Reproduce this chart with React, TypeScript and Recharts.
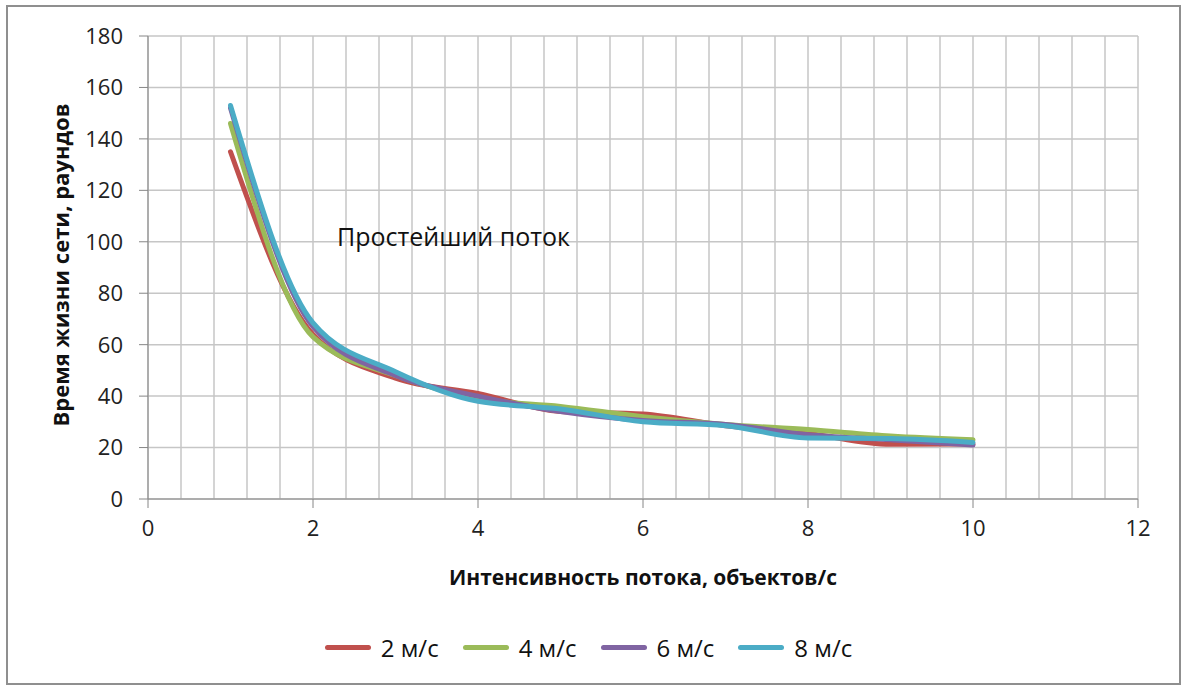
import React from 'react';
import { LineChart, Line, XAxis, YAxis, CartesianGrid } from 'recharts';

// intensity of the flow, objects/s
const intensity = [1, 2, 3, 4, 5, 6, 7, 8, 9, 10];

// network lifetime, rounds, per node speed
const speed2 = [135, 64, 47, 41, 34, 33, 28.5, 25.5, 21.3, 21.4];
const speed4 = [146, 63, 48, 39, 36, 32, 29, 27, 24.5, 23];
const speed6 = [152, 67, 48, 40, 34, 30.5, 29, 25, 23, 21];
const speed8 = [153, 68.5, 49.5, 38, 35, 30, 28.5, 23.7, 23.5, 22];

const xTicks = [0, 2, 4, 6, 8, 10, 12];
const yTicks = [0, 20, 40, 60, 80, 100, 120, 140, 160, 180];
const xGridValues = Array.from({ length: 31 }, (_, i) => Math.round(i * 4) / 10);

const SERIES = [
    { key: 's2', name: '2 м/с', color: '#C0504D', values: speed2 },
    { key: 's4', name: '4 м/с', color: '#9BBB59', values: speed4 },
    { key: 's6', name: '6 м/с', color: '#8064A2', values: speed6 },
    { key: 's8', name: '8 м/с', color: '#4BACC6', values: speed8 },
];

const FONT = '"Open Sans", sans-serif';
const TICK_SIZE = 22;

const XTick = (props: any) => {
    const { x, y, payload } = props;
    return (
        <text x={x} y={y} dy={TICK_SIZE * 0.72} textAnchor="middle"
            style={{ fill: '#222', fontSize: TICK_SIZE, fontFamily: FONT }}>
            {payload.value}
        </text>
    );
};

const YTick = (props: any) => {
    const { x, y, payload } = props;
    return (
        <text x={x} y={y} dy={TICK_SIZE * 0.36} textAnchor="end"
            style={{ fill: '#222', fontSize: TICK_SIZE, fontFamily: FONT }}>
            {payload.value}
        </text>
    );
};

const App: React.FC = () => {
    const data = intensity.map((x, i) => {
        const row: Record<string, number> = { x };
        SERIES.forEach(s => { row[s.key] = s.values[i]; });
        return row;
    });

    return (
        <div style={{
            position: 'absolute', left: 6, top: 5, width: 1171, height: 676,
            border: '2px solid #8f8f8f', background: 'white', fontFamily: FONT,
        }}>
            <LineChart
                width={1171}
                height={676}
                data={data}
                margin={{ top: 29, right: 41, bottom: 92, left: 0 }}
            >
                <CartesianGrid
                    stroke="#c6c6c6"
                    strokeWidth={1.5}
                    verticalValues={xGridValues}
                    horizontalValues={yTicks}
                />
                <XAxis
                    type="number"
                    dataKey="x"
                    domain={[0, 12]}
                    ticks={xTicks}
                    height={92}
                    tickSize={9}
                    tickMargin={12}
                    stroke="#868686"
                    tick={<XTick />}
                    label={{
                        value: 'Интенсивность потока, объектов/с',
                        position: 'insideBottom',
                        offset: 6,
                        style: { fill: '#111', fontSize: 21, fontWeight: 700, fontFamily: FONT },
                    }}
                />
                <YAxis
                    type="number"
                    domain={[0, 180]}
                    ticks={yTicks}
                    width={140}
                    tickSize={9}
                    tickMargin={16}
                    stroke="#868686"
                    tick={<YTick />}
                    label={{
                        content: (props: any) => {
                            const vb = props.viewBox || {};
                            const cx = (vb.x || 0) + 52;
                            const cy = 258;
                            return (
                                <text
                                    x={cx}
                                    y={cy}
                                    transform={`rotate(-90, ${cx}, ${cy})`}
                                    textAnchor="middle"
                                    dominantBaseline="central"
                                    style={{ fill: '#111', fontSize: 22, fontWeight: 700, fontFamily: FONT }}
                                >
                                    Время жизни сети, раундов
                                </text>
                            );
                        },
                    }}
                />
                {SERIES.map(s => (
                    <Line
                        key={s.key}
                        type="monotone"
                        dataKey={s.key}
                        name={s.name}
                        stroke={s.color}
                        strokeWidth={5}
                        dot={false}
                        activeDot={false}
                        strokeLinecap="round"
                        isAnimationActive={false}
                    />
                ))}
            </LineChart>

            {/* annotation inside the plot */}
            <div style={{
                position: 'absolute', left: 329, top: 212, fontSize: 25, color: '#111', whiteSpace: 'nowrap',
            }}>
                Простейший поток
            </div>

            {/* legend */}
            <div style={{
                position: 'absolute', left: 0, right: 0, top: 624, display: 'flex',
                justifyContent: 'center', gap: 24, fontSize: 24, color: '#111', paddingRight: 10,
            }}>
                {SERIES.map(s => (
                    <div key={s.key} style={{ display: 'flex', alignItems: 'center' }}>
                        <span style={{
                            display: 'inline-block', width: 46, height: 5, borderRadius: 3,
                            background: s.color, marginRight: 10,
                        }} />
                        <span>{s.name}</span>
                    </div>
                ))}
            </div>
        </div>
    );
};

export default App;
